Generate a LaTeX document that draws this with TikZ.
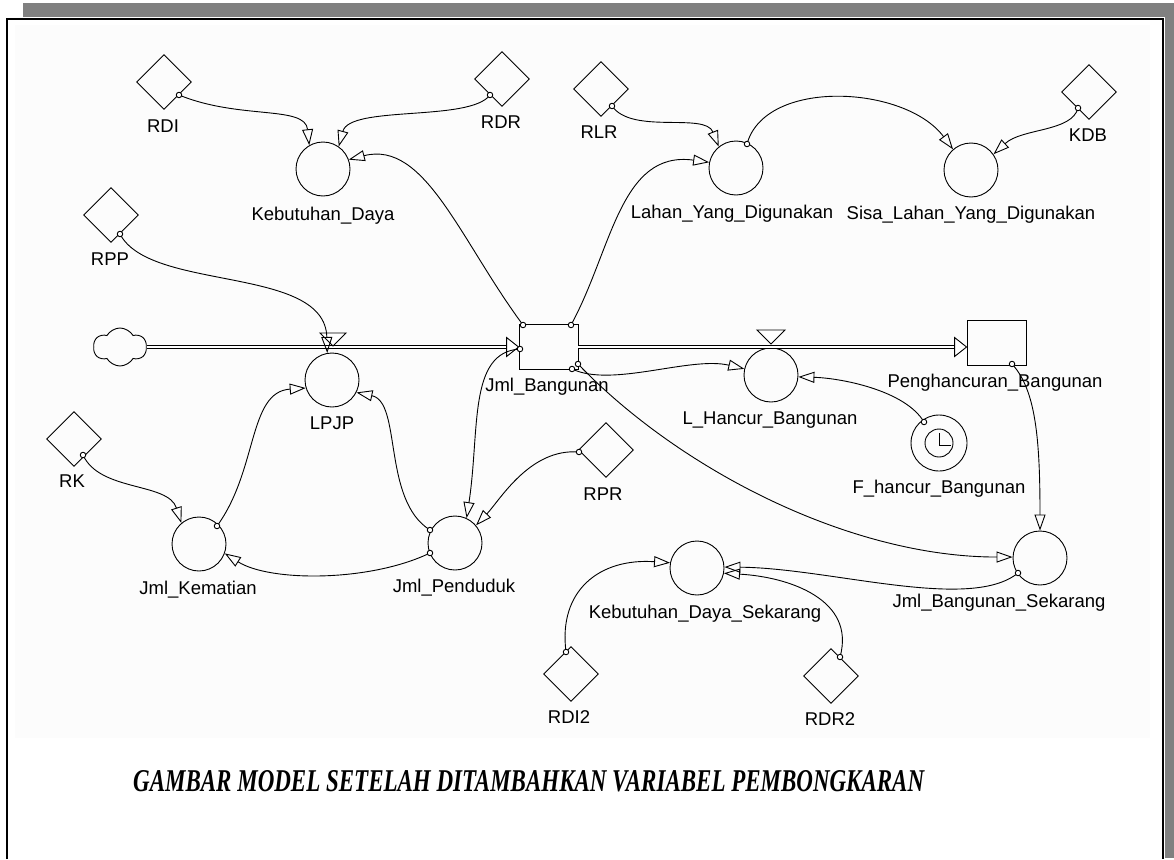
\documentclass[tikz,border=0pt]{standalone}
\usepackage{graphicx}
\usepackage{fontspec}
\setmainfont{Liberation Sans}
\newfontfamily\capfont{Liberation Serif}
\usetikzlibrary{shapes.geometric,shapes.symbols,arrows.meta,calc}
\definecolor{shadowgray}{RGB}{128,128,128}
\definecolor{paper}{RGB}{252,252,252}
\begin{document}
\begin{tikzpicture}[x=1pt,y=-1pt,
  aux/.style={diamond, draw, line width=0.9pt, minimum width=55pt, minimum height=55pt, inner sep=0pt, aspect=1},
  conv/.style={circle, draw, line width=0.9pt, minimum size=54pt, inner sep=0pt},
  stock/.style={rectangle, draw, line width=0.9pt, minimum width=59pt, minimum height=45pt, inner sep=0pt},
  lbl/.style={font=\fontsize{18.5}{20}\selectfont, inner sep=0pt, anchor=base},
  link/.style={line width=0.9pt, -{Triangle[open, length=16pt, width=11pt, line width=0.9pt]}},
  pipe/.style={double distance=2.4pt, line width=0.9pt},
  dotc/.style={circle, draw, fill=white, line width=0.9pt, minimum size=5.5pt, inner sep=0pt},
  valve/.style={line width=0.9pt, fill=white},
  ftip/.style={line width=0.9pt, fill=white}
]
\useasboundingbox (0,0) rectangle (1174,859);
% frame and shadow
\fill[shadowgray] (23,3) rectangle (1174,17.5);
\fill[shadowgray] (1165,3) rectangle (1174,858);
\fill[paper] (15,25) rectangle (1150,738);
\draw[line width=2.5pt] (7,859) -- (7,19) -- (1163,19) -- (1163,859);

% auxiliaries
\node[aux] (rdi) at (164,82) {};
\node[aux] (rdr) at (502,79) {};
\node[aux] (rlr) at (601,89) {};
\node[aux] (kdb) at (1089,92) {};
\node[aux] (rpp) at (111,215) {};
\node[aux] (rk) at (74,439) {};
\node[aux] (rpr) at (606,450) {};
\node[aux] (rdi2) at (571,674) {};
\node[aux] (rdr2) at (831,676) {};
% converters
\node[conv] (kd) at (323,169) {};
\node[conv] (lyd) at (736,168) {};
\node[conv] (slyd) at (971,170) {};
\node[conv] (lpjp) at (332,380) {};
\node[conv] (lhb) at (771,375) {};
\node[conv] (jk) at (199,544) {};
\node[conv] (jp) at (455,543) {};
\node[conv] (jbs) at (1040,558) {};
\node[conv] (kds) at (697,568) {};
\node[conv, minimum size=56pt] (fhb) at (939,443) {};
\draw[line width=0.9pt] (fhb.center) circle (14);
\draw[line width=0.9pt] ($(fhb.center)+(0,-10)$) -- ($(fhb.center)+(0,2)$) -- ($(fhb.center)+(12,2)$);
% stocks
\node[stock] (jb) at (548.5,347) {};
\node[stock] (ph) at (996.5,343) {};
% cloud
\node[cloud, draw, line width=0.9pt, cloud puffs=6, cloud puff arc=120, aspect=1.4, minimum width=53pt, minimum height=38pt, inner sep=0pt] (cloud) at (120,347) {};

% flows
\draw[pipe, shorten >=12pt] (cloud.east) -- (cloud.east -| jb.west);
\draw[ftip] (cloud.east -| jb.west) -- ++(-12,-9.5) -- ++(0,19) -- cycle;
\draw[pipe, shorten >=12pt] (jb.east) -- (jb.east -| ph.west);
\draw[ftip] (jb.east -| ph.west) -- ++(-12,-9.5) -- ++(0,19) -- cycle;
\draw[valve] (320,333) -- (346,333) -- (333,346) -- cycle;
\draw[valve] (757,330) -- (785,330) -- (771,344) -- cycle;

% link start points
\coordinate (d1) at (179,95);
\coordinate (d2) at (490,95);
\coordinate (d3) at (612,106);
\coordinate (d4) at (747,144);
\coordinate (d5) at (1078,108);
\coordinate (d6) at (120,234);
\coordinate (d7) at (523,325);
\coordinate (d8) at (571,325);
\coordinate (d9) at (520,349);
\coordinate (d10) at (572,369);
\coordinate (d11) at (578,364);
\coordinate (d12) at (1012,364);
\coordinate (d13) at (924,422);
\coordinate (d14) at (217,526);
\coordinate (d15) at (83,455);
\coordinate (d16) at (430,530);
\coordinate (d17) at (430,553);
\coordinate (d18) at (579,452);
\coordinate (d19) at (1018,573);
\coordinate (d20) at (566,652);
\coordinate (d21) at (840,657);

% links
\draw[link] (d1) .. controls (240,120) and (305,105) .. (kd.120);
\draw[link] (d2) .. controls (470,122) and (350,105) .. (kd.55);
\draw[link] (d7) .. controls (460,240) and (425,140) .. (kd.20);
\draw[link] (d8) .. controls (612,250) and (620,150) .. (lyd.168);
\draw[link] (d3) .. controls (632,135) and (705,112) .. (lyd.129);
\draw[link] (d4) .. controls (765,78) and (905,85) .. (slyd.131);
\draw[link] (d5) .. controls (1072,132) and (1022,128) .. (slyd.35);
\draw[link] (d6) .. controls (150,292) and (325,265) .. (lpjp.100);
\draw[link] (d14) .. controls (258,470) and (248,392) .. (lpjp.197);
\draw[link] (d15) .. controls (100,492) and (168,482) .. (jk.130);
\draw[link] (d16) .. controls (382,500) and (402,402) .. (lpjp.-27);
\draw[link] (d17) .. controls (370,582) and (270,582) .. (jk.-20);
\draw[link] (d9) .. controls (468,352) and (480,430) .. (jp.65);
\draw[link] (d18) .. controls (530,448) and (500,500) .. (jp.40);
\draw[link] (d10) .. controls (612,388) and (690,356) .. (lhb.167);
\draw[link] (d11) .. controls (680,470) and (850,557) .. (jbs.178);
\draw[link] (d13) .. controls (905,390) and (840,378) .. (lhb.-4);
\draw[link] (d12) .. controls (1036,390) and (1040,440) .. (jbs.90);
\draw[link] (d19) .. controls (970,612) and (830,568) .. (kds.2);
\draw[link] (d20) .. controls (558,590) and (600,558) .. (kds.169);
\draw[link] (d21) .. controls (856,600) and (790,577) .. (kds.-11);

% link start markers
\foreach \d in {d1,d2,d3,d4,d5,d6,d7,d8,d9,d10,d11,d12,d13,d14,d15,d16,d17,d18,d19,d20,d21}{
  \node[dotc] (m\d) at (\d) {};
}

% labels
\node[lbl] (l-rdi) at (163,132) {RDI};
\node[lbl] (l-rpp) at (110,265) {RPP};
\node[lbl] (l-kd) at (323,220) {Kebutuhan\_Daya};
\node[lbl] (l-rdr) at (501,128) {RDR};
\node[lbl] (l-rlr) at (599,138) {RLR};
\node[lbl] (l-lyd) at (732,218) {Lahan\_Yang\_Digunakan};
\node[lbl] (l-slyd) at (971,219) {Sisa\_Lahan\_Yang\_Digunakan};
\node[lbl] (l-kdb) at (1088,141) {KDB};
\node[lbl] (l-lpjp) at (332,429) {LPJP};
\node[lbl] (l-rk) at (72,487) {RK};
\node[lbl] (l-jk) at (198,594) {Jml\_Kematian};
\node[lbl] (l-jb) at (547,391) {Jml\_Bangunan};
\node[lbl] (l-jp) at (454,592) {Jml\_Penduduk};
\node[lbl] (l-rpr) at (603,500) {RPR};
\node[lbl] (l-lhb) at (770,424) {L\_Hancur\_Bangunan};
\node[lbl] (l-ph) at (995,387) {Penghancuran\_Bangunan};
\node[lbl] (l-fhb) at (939,493) {F\_hancur\_Bangunan};
\node[lbl] (l-jbs) at (999,607) {Jml\_Bangunan\_Sekarang};
\node[lbl] (l-kds) at (705,618) {Kebutuhan\_Daya\_Sekarang};
\node[lbl] (l-rdi2) at (569,723) {RDI2};
\node[lbl] (l-rdr2) at (830,725) {RDR2};

% caption
\node[anchor=base west, inner sep=0pt] (cap) at (133,791) {\resizebox{791pt}{21pt}{\capfont\bfseries\itshape GAMBAR MODEL SETELAH DITAMBAHKAN VARIABEL PEMBONGKARAN}};
\end{tikzpicture}
\end{document}
